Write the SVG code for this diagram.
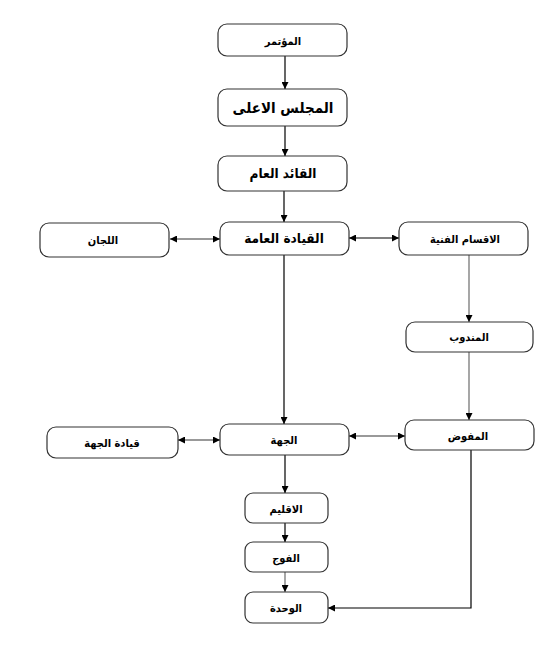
<svg xmlns="http://www.w3.org/2000/svg" width="559" height="649" viewBox="0 0 559 649">
<style>
.box{fill:#fff;stroke:#333;stroke-width:1.2}
.t{font-family:"DejaVu Sans Condensed","DejaVu Sans",sans-serif;font-weight:bold;font-size:11px;text-anchor:middle;fill:#000}
.big{font-size:15px}
.mid{font-size:13.5px}
.k{stroke:#000;stroke-width:1.2;fill:none}
.g{stroke:#777;stroke-width:1.3;fill:none}
</style>
<defs>
<marker id="a" viewBox="0 0 10 10" refX="10" refY="5" markerWidth="7" markerHeight="7" orient="auto-start-reverse" markerUnits="userSpaceOnUse">
<path d="M0,0 L10,5 L0,10 z" fill="#000"/>
</marker>
</defs>
<rect width="559" height="649" fill="#fff"/>
<g id="connectors">
<line class="k" x1="285" y1="56" x2="285" y2="89" marker-end="url(#a)"/>
<line class="k" x1="285" y1="126" x2="285" y2="156" marker-end="url(#a)"/>
<line class="k" x1="284" y1="191" x2="284" y2="222" marker-end="url(#a)"/>
<line class="k" x1="284" y1="255" x2="284" y2="424" marker-end="url(#a)"/>
<line class="g" x1="170" y1="239" x2="220" y2="239" marker-start="url(#a)" marker-end="url(#a)"/>
<line class="k" x1="349" y1="238" x2="399" y2="238" marker-start="url(#a)" marker-end="url(#a)"/>
<line class="g" x1="469" y1="255" x2="469" y2="322" marker-end="url(#a)"/>
<line class="g" x1="469" y1="352" x2="469" y2="420" marker-end="url(#a)"/>
<line class="g" x1="178" y1="440" x2="220" y2="440" marker-start="url(#a)" marker-end="url(#a)"/>
<line class="g" x1="349" y1="436" x2="405" y2="436" marker-start="url(#a)" marker-end="url(#a)"/>
<line class="k" x1="285" y1="455" x2="285" y2="493" marker-end="url(#a)"/>
<line class="k" x1="285" y1="523" x2="285" y2="542" marker-end="url(#a)"/>
<line class="g" x1="285" y1="572" x2="285" y2="592" marker-end="url(#a)"/>
<polyline class="k" points="471,450 471,608 328,608" marker-end="url(#a)"/>
</g>
<g id="n1"><rect class="box" x="218" y="24" width="129" height="32" rx="9"/><text class="t" x="283" y="45">المؤتمر</text></g>
<g id="n2"><rect class="box" x="218" y="89" width="129" height="37" rx="9"/><text class="t big" x="283" y="113">المجلس الاعلى</text></g>
<g id="n3"><rect class="box" x="218" y="156" width="129" height="35" rx="9"/><text class="t mid" x="283" y="178">القائد العام</text></g>
<g id="n4"><rect class="box" x="220" y="222" width="129" height="33" rx="9"/><text class="t mid" x="284" y="243">القيادة العامة</text></g>
<g id="n5"><rect class="box" x="40" y="223" width="129" height="34" rx="9"/><text class="t" x="103" y="244">اللجان</text></g>
<g id="n6"><rect class="box" x="399" y="222" width="129" height="33" rx="9"/><text class="t" x="465" y="243">الاقسام الفنية</text></g>
<g id="n7"><rect class="box" x="406" y="322" width="127" height="30" rx="9"/><text class="t" x="469" y="341">المندوب</text></g>
<g id="n8"><rect class="box" x="405" y="420" width="129" height="30" rx="9"/><text class="t" x="468" y="440">المفوض</text></g>
<g id="n9"><rect class="box" x="220" y="424" width="129" height="31" rx="9"/><text class="t" x="284" y="444">الجهة</text></g>
<g id="n10"><rect class="box" x="47" y="427" width="131" height="31" rx="9"/><text class="t" x="112" y="447">قيادة الجهة</text></g>
<g id="n11"><rect class="box" x="245" y="493" width="83" height="30" rx="8"/><text class="t" x="286" y="513">الاقليم</text></g>
<g id="n12"><rect class="box" x="245" y="542" width="83" height="30" rx="8"/><text class="t" x="286" y="562">الفوج</text></g>
<g id="n13"><rect class="box" x="245" y="592" width="83" height="31" rx="8"/><text class="t" x="286" y="612">الوحدة</text></g>
</svg>
